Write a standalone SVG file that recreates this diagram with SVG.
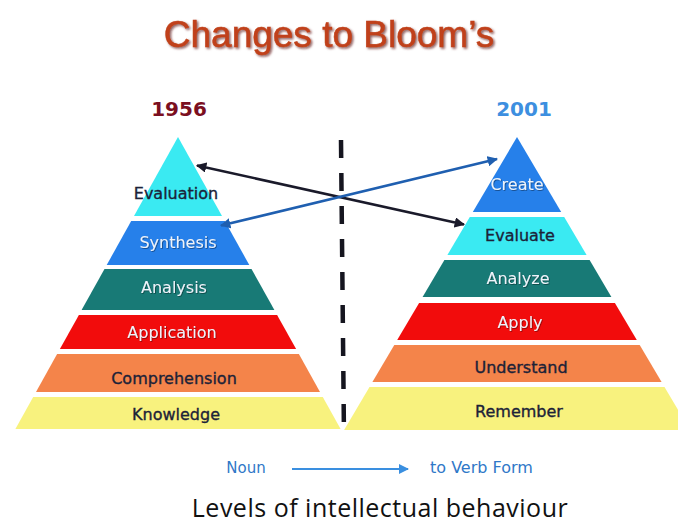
<svg xmlns="http://www.w3.org/2000/svg" width="678" height="523" viewBox="0 0 678 523">
<defs>
<style>
.lbl{font-family:"DejaVu Sans","Verdana",sans-serif;font-size:16px;text-anchor:middle}
.dk{fill:#1c2238;stroke:#1c2238;stroke-width:0.35}
.lt{fill:#eef3fa;filter:url(#ts)}
.yr{font-family:"DejaVu Sans",sans-serif;font-size:20px;font-weight:bold;text-anchor:middle}
.cy{fill:#3aeaf2}
.bl{fill:#2680ea}
.te{fill:#187a76}
.rd{fill:#f20c0c}
.or{fill:#f4844a}
.ye{fill:#f8f27e}
.leg{font-family:"DejaVu Sans",sans-serif;fill:#2f78c8}
</style>
<filter id="sh" x="-5%" y="-20%" width="110%" height="150%">
<feDropShadow dx="1.5" dy="1.5" stdDeviation="0.8" flood-color="#5a1808" flood-opacity="0.7"/>
</filter>
<filter id="ts" x="-5%" y="-20%" width="110%" height="150%">
<feDropShadow dx="0.8" dy="0.8" stdDeviation="0.5" flood-color="#000000" flood-opacity="0.45"/>
</filter>
<marker id="ak" viewBox="0 0 10 10" refX="9" refY="5" markerWidth="4" markerHeight="4" orient="auto-start-reverse">
<path d="M0,0 L10,5 L0,10 z" fill="#1a1a2a"/>
</marker>
<marker id="ab" viewBox="0 0 10 10" refX="9" refY="5" markerWidth="4" markerHeight="4" orient="auto-start-reverse">
<path d="M0,0 L10,5 L0,10 z" fill="#1f5fb0"/>
</marker>
<marker id="al" viewBox="0 0 10 10" refX="9" refY="5" markerWidth="5" markerHeight="5" orient="auto">
<path d="M0,0 L10,5 L0,10 z" fill="#3a8fe0"/>
</marker>
</defs>
<rect width="678" height="523" fill="#ffffff"/>

<text x="329" y="47" font-family="Liberation Sans, Arial, sans-serif" font-size="37" fill="#c0401a" stroke="#c0401a" stroke-width="0.5" text-anchor="middle" filter="url(#sh)">Changes to Bloom’s</text>

<text class="yr" x="179" y="116" fill="#7b0f1f">1956</text>
<text class="yr" x="524" y="116" fill="#3d8fe0">2001</text>

<g id="old">
<g id="evaluation-old"><polygon class="cy" points="178,137 222,216 134,216"/><text class="lbl dk" x="176" y="199">Evaluation</text></g>
<g id="synthesis"><polygon class="bl" points="131.2,221 224.8,221 249.3,265 106.7,265"/><text class="lbl lt" x="178" y="248">Synthesis</text></g>
<g id="analysis"><polygon class="te" points="104.5,269 251.5,269 274.4,310 81.6,310"/><text class="lbl lt" x="174" y="293">Analysis</text></g>
<g id="application"><polygon class="rd" points="78.9,315 277.1,315 296.1,349 59.9,349"/><text class="lbl lt" x="172" y="338">Application</text></g>
<g id="comprehension"><polygon class="or" points="57.1,354 298.9,354 320,392 36,392"/><text class="lbl dk" x="174" y="384">Comprehension</text></g>
<g id="knowledge"><polygon class="ye" points="33.2,397 322.8,397 340.6,429 15.4,429"/><text class="lbl dk" x="176" y="420">Knowledge</text></g>
</g>

<g id="new">
<g id="create"><polygon class="bl" points="517,137 561.2,212 472.8,212"/><text class="lbl lt" x="517" y="190">Create</text></g>
<g id="evaluate"><polygon class="cy" points="469.8,217 564.2,217 586.6,255 447.4,255"/><text class="lbl dk" x="520" y="241">Evaluate</text></g>
<g id="analyze"><polygon class="te" points="444.4,260 589.6,260 611.4,297 422.6,297"/><text class="lbl lt" x="518" y="284">Analyze</text></g>
<g id="apply"><polygon class="rd" points="419.1,303 614.9,303 636.8,340 397.2,340"/><text class="lbl lt" x="520" y="328">Apply</text></g>
<g id="understand"><polygon class="or" points="394.3,345 639.7,345 661.6,382 372.4,382"/><text class="lbl dk" x="521" y="373">Understand</text></g>
<g id="remember"><polygon class="ye" points="369.5,387 664.5,387 689.9,430 344.1,430"/><text class="lbl dk" x="519" y="417">Remember</text></g>
</g>

<g id="connectors">
<line x1="341" y1="140" x2="344" y2="437" stroke="#15151f" stroke-width="4.5" stroke-dasharray="18,15"/>
<line x1="197" y1="165.5" x2="464" y2="224.5" stroke="#1a1a2a" stroke-width="2.6" marker-start="url(#ak)" marker-end="url(#ak)"/>
<line x1="221" y1="225.5" x2="497" y2="159" stroke="#1f5fb0" stroke-width="2.6" marker-start="url(#ab)" marker-end="url(#ab)"/>
<line x1="292" y1="469" x2="408" y2="469" stroke="#3a8fe0" stroke-width="2" marker-end="url(#al)"/>
</g>

<text class="leg" x="246" y="473" font-size="15" text-anchor="middle">Noun</text>
<text class="leg" x="430" y="473" font-size="16">to Verb Form</text>

<text x="380" y="517" font-family="Open Sans, Noto Sans, sans-serif" font-size="25" letter-spacing="0.5" fill="#111111" text-anchor="middle">Levels of intellectual behaviour</text>
</svg>
